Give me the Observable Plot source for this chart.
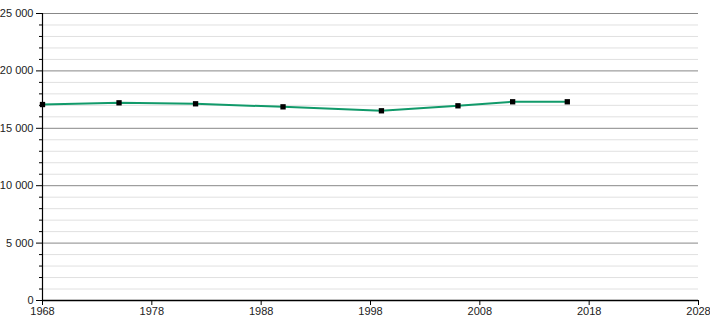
<!DOCTYPE html>
<html>
<head>
<meta charset="utf-8">
<script src="https://cdn.jsdelivr.net/npm/d3@7"></script>
<script src="https://cdn.jsdelivr.net/npm/@observablehq/plot@0.6"></script>
<style>
  body { margin: 0; background: #fff; }
  #chart svg { display: block; }
</style>
</head>
<body>
<div id="chart"></div>
<script>
const years = [1968, 1975, 1982, 1990, 1999, 2006, 2011, 2016];
const population = [17070, 17220, 17135, 16870, 16525, 16960, 17310, 17310];
const xTicks = [1968, 1978, 1988, 1998, 2008, 2018, 2028];
const yMajor = [0, 5000, 10000, 15000, 20000, 25000];
const yMinor = d3.range(0, 25001, 1000).filter(v => v % 5000 !== 0);

const data = years.map((y, i) => ({year: y, value: population[i]}));
const fmt = v => d3.format(",")(v).replace(/,/g, " ");

const chart = Plot.plot({
  width: 710,
  height: 320,
  marginLeft: 42,
  marginRight: 12,
  marginTop: 13,
  marginBottom: 20,
  style: {fontFamily: "Liberation Sans, Arial, sans-serif", fontSize: "11px", color: "#222", background: "#fff"},
  x: {domain: [1968, 2028], label: null},
  y: {domain: [0, 25000], label: null},
  marks: [
    Plot.ruleY(yMinor, {stroke: "#e0e0e0", strokeWidth: 1, x1: 1968, x2: 2028}),
    Plot.ruleY(yMajor.filter(v => v > 0), {stroke: "#888888", strokeWidth: 1, x1: 1968, x2: 2028}),
    Plot.axisY({ticks: yMinor, tickSize: 3, text: null, stroke: "#000", label: null}),
    Plot.axisY({ticks: yMajor, tickSize: 6, tickFormat: fmt, tickPadding: 3, stroke: "#000", fill: "#222", label: null}),
    Plot.axisX({ticks: xTicks, tickSize: 5, tickFormat: d => String(d), tickPadding: 2, stroke: "#000", fill: "#222", label: null}),
    Plot.ruleX([1968], {y1: 0, y2: 25000, stroke: "#000", strokeWidth: 1.2}),
    Plot.ruleY([0], {x1: 1968, x2: 2028, stroke: "#000", strokeWidth: 1.5}),
    Plot.line(data, {x: "year", y: "value", stroke: "#119a6a", strokeWidth: 2}),
    Plot.dot(data, {x: "year", y: "value", symbol: "square", r: 3, fill: "#000", stroke: "none"})
  ]
});
document.getElementById("chart").appendChild(chart);
</script>
</body>
</html>
